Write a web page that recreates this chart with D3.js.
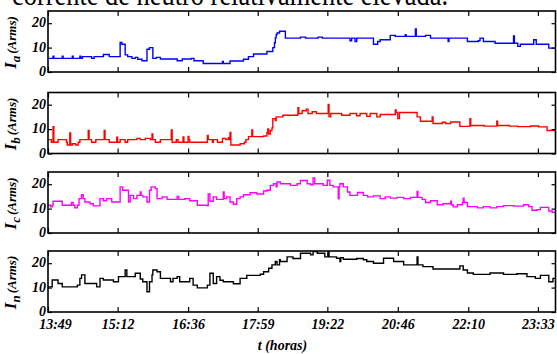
<!DOCTYPE html>
<html>
<head>
<meta charset="utf-8">
<script src="https://cdn.jsdelivr.net/npm/d3@7"></script>
<style>
  body { margin: 0; background: #fff; }
  svg { display: block; }
  text { font-family: "Liberation Serif", "Times New Roman", serif; }
</style>
</head>
<body>
<svg id="chart" width="557" height="354"></svg>
<script>
// time in minutes after 13:49, current in Arms
const tickMinutes = [0, 83, 167, 250, 333, 417, 501, 584];
const tickLabels = ['13:49', '15:12', '16:36', '17:59', '19:22', '20:46', '22:10', '23:33'];
const endMinute = 605;
const yTicks = [0, 10, 20];

const phaseA = [[0,5.6],[6,6.5],[7,5.6],[17,6.5],[18,5.6],[29,6.5],[30,5.6],[38,6.5],[39,5.6],[41,6.3],[52,5.6],[55,6.3],
  [66,7.2],[73,6.3],[86,12.1],[88,11.4],[92,7.0],[95,6.3],[100,5.6],[104,6.0],[107,5.2],[112,4.6],[118,9.3],[121,10.0],
  [125,5.6],[129,6.0],[134,5.3],[154,4.6],[160,5.3],[171,5.6],[174,4.6],[185,3.5],[208,4.3],[209,3.5],[217,4.5],[233,5.2],
  [239,6.3],[245,7.4],[261,8.4],[268,10],[270,12],[271,14],[272,15.3],[273,16],[276,16.7],[283,13.9],[301,14.3],[307,13.9],
  [322,14.3],[327,13.9],[360,12.8],[362,13.9],[366,12.5],[368,13.9],[388,11.4],[393,12.5],[396,13.2],[408,15.0],[414,14.6],
  [426,15.3],[427,14.6],[438,17.6],[439,14.6],[450,15.0],[456,13.9],[477,12.5],[478,13.9],[500,12.5],[513,12.8],[515,13.9],
  [519,12.5],[533,11.8],[555,14.8],[556,11.8],[560,10.5],[563,11.4],[579,13.2],[582,11.4],[597,9.8]];

const phaseB = [[0,5.7],[4,4.6],[6,11],[7,4.6],[12,5.7],[22,4.6],[23,3.5],[26,8.4],[27,3.5],[29,4.0],[33,3.5],[36,4.6],
  [38,5.7],[48,9.4],[49,5.7],[52,4.6],[57,5.7],[67,9.4],[68,5.7],[73,4.6],[82,6.7],[83,4.6],[86,5.7],[92,4.6],[95,5.7],
  [106,6.2],[110,5.7],[116,6.2],[122,5.7],[124,8.0],[125,5.7],[128,4.6],[134,5.7],[147,9.7],[148,4.6],[153,5.7],[155,4.6],
  [161,6.8],[162,4.6],[167,7.0],[168,5.7],[169,4.6],[190,7.4],[191,5.7],[196,4.6],[197,5.7],[202,4.6],[208,6.2],[212,5.7],
  [215,6.5],[216,5.7],[217,8.6],[218,3.5],[229,4.0],[234,4.6],[236,5.7],[239,6.9],[243,9.7],[244,6.9],[257,7.2],[261,8.5],
  [262,10.1],[263,8.0],[265,9.4],[267,10.5],[268,14.3],[271,13.5],[272,15.0],[280,15.7],[298,18.8],[299,16.4],[303,17.5],
  [308,18.2],[310,16.4],[315,17.1],[320,16.4],[334,20.1],[335,15.0],[337,16.4],[350,15.7],[360,16.4],[368,15.5],[372,16.4],
  [380,15.2],[384,16.4],[392,15.0],[396,16.0],[414,17.8],[415,16.8],[417,14.3],[419,16.8],[440,15.0],[444,13.2],[458,15.0],
  [459,12.3],[470,12.8],[474,12.3],[480,12.9],[491,11.1],[503,14.3],[504,11.5],[520,11.2],[535,13.2],[536,11.5],[550,11.2],
  [560,11.0],[575,11.3],[585,10.9],[595,9.4]];

const phaseC = [[0,11.4],[3,10.7],[5,11.4],[6,13.0],[17,11.4],[28,12.5],[30,11.4],[32,10.3],[35,11.4],[37,14.1],[40,15.7],
  [42,14.1],[44,12.7],[50,12.0],[54,11.1],[62,14.1],[66,13.2],[70,14.1],[76,12.7],[86,18.9],[89,17.5],[96,12.7],[98,15.4],
  [102,14.1],[106,15.4],[110,16.8],[111,15.4],[113,14.8],[118,12.7],[121,17.5],[123,18.9],[128,18.2],[130,14.1],[136,14.8],
  [142,13.8],[154,15.0],[156,13.8],[163,14.1],[169,13.2],[178,11.4],[190,11.1],[191,16.0],[193,13.0],[197,14.8],[201,13.8],
  [209,16.8],[210,14.1],[213,14.8],[217,12.7],[221,11.8],[225,14.1],[229,14.8],[233,15.7],[241,16.5],[249,16.0],[257,17.2],
  [261,17.5],[265,19.5],[269,20.2],[272,18.9],[273,20.9],[277,20.2],[289,19.5],[297,20.2],[301,21.5],[309,20.2],[313,19.8],
  [316,22.6],[318,20.2],[328,19.5],[333,21.6],[336,19.5],[340,18.9],[346,14.0],[347,18.9],[348,20.2],[352,18.9],[357,16.8],
  [360,15.4],[369,16.6],[376,15.4],[381,14.8],[388,15.2],[396,14.1],[402,14.8],[408,14.3],[416,14.6],[424,14.1],[432,14.6],
  [440,17.0],[441,14.6],[446,13.8],[450,12.5],[456,13.2],[464,11.6],[471,12.0],[480,13.0],[481,11.6],[483,10.7],[488,11.6],
  [494,12.5],[495,14.3],[496,12.5],[500,10.8],[512,10.3],[519,10.8],[527,10.3],[535,10.8],[543,11.2],[555,11.0],[567,11.6],
  [573,10.8],[577,9.3],[583,9.6],[587,10.5],[597,9.0],[601,8.5]];

const neutral = [[0,10.3],[5,13.1],[12,11.7],[17,10.3],[35,11.0],[38,13.8],[40,15.2],[44,11.7],[58,10.3],[62,13.8],[66,13.1],
  [78,12.4],[84,14.5],[92,17.2],[94,14.5],[104,15.9],[110,13.5],[113,12.4],[118,8.3],[121,12.4],[124,15.2],[125,17.2],
  [130,16.5],[134,13.8],[146,12.4],[149,13.8],[154,14.5],[157,12.4],[169,13.8],[173,11.0],[178,9.9],[190,11.0],[193,15.9],
  [197,11.7],[201,14.5],[205,13.0],[209,12.4],[221,11.6],[229,13.8],[237,15.0],[253,15.5],[257,16.5],[263,17.9],[267,19.3],
  [271,20.7],[273,19.3],[276,21.4],[277,20.7],[285,22.6],[292,21.9],[301,24.1],[313,23.4],[316,24.8],[321,24.1],[330,22.6],
  [334,24.8],[335,22.6],[344,22.0],[348,20.7],[349,22.3],[352,21.6],[368,21.9],[376,21.4],[380,20.7],[388,20.0],[400,22.0],
  [412,20.7],[424,19.3],[440,22.6],[441,19.3],[447,18.6],[459,17.6],[491,18.9],[495,17.2],[500,16.0],[507,15.4],[527,16.0],
  [543,15.4],[559,15.7],[571,14.5],[581,13.8],[587,15.0],[597,12.4],[602,13.8]];

const panels = [
  {sub: 'a', color: '#0000ff', data: phaseA},
  {sub: 'b', color: '#ff0000', data: phaseB},
  {sub: 'c', color: '#ff00ff', data: phaseC},
  {sub: 'n', color: '#000000', data: neutral}
];

const svg = d3.select('#chart');
const left = 48, right = 555.5;
const tops = [11, 92.5, 172, 251];
const ph = 61;

// caption line of the page, cut off by the top edge as in the source
svg.append('text')
  .attr('x', 12).attr('y', 5)
  .attr('font-size', 31)
  .attr('textLength', 436).attr('lengthAdjust', 'spacingAndGlyphs')
  .text('corrente de neutro relativamente elevada.');

const x = d3.scaleLinear().domain([0, endMinute]).range([0, right - left]);
const y = d3.scaleLinear().domain([0, 25]).range([ph, 0]);

const line = d3.line()
  .x(d => x(d[0]))
  .y(d => y(d[1]))
  .curve(d3.curveStepAfter);

panels.forEach((p, i) => {
  const g = svg.append('g').attr('transform', `translate(${left}, ${tops[i]})`);
  const w = right - left;

  g.append('clipPath').attr('id', 'clip' + i)
    .append('rect').attr('width', w).attr('height', ph);

  const pts = p.data.concat([[endMinute, p.data[p.data.length - 1][1]]]);
  g.append('path')
    .attr('clip-path', `url(#clip${i})`)
    .attr('d', line(pts))
    .attr('fill', 'none')
    .attr('stroke', p.color)
    .attr('stroke-width', 1.4);

  const styleAxis = sel => {
    sel.select('.domain').remove();
    sel.selectAll('line').attr('stroke', '#000').attr('stroke-width', 1.2);
    sel.selectAll('text')
      .attr('font-family', '"Liberation Serif", "Times New Roman", serif')
      .attr('font-size', 14).attr('font-weight', 'bold').attr('font-style', 'italic')
      .attr('fill', '#000');
  };

  const yAxis = g.append('g')
    .call(d3.axisLeft(y).tickValues(yTicks).tickSize(-4).tickPadding(2).tickFormat(d3.format('d')))
    .call(styleAxis);
  yAxis.selectAll('text').attr('dy', '0.25em');

  g.append('g').attr('transform', `translate(${w}, 0)`)
    .call(d3.axisRight(y).tickValues(yTicks).tickSize(-4).tickFormat(''))
    .call(styleAxis);
  g.append('g')
    .call(d3.axisTop(x).tickValues(tickMinutes).tickSize(-5).tickFormat(''))
    .call(styleAxis);
  const bottom = g.append('g').attr('transform', `translate(0, ${ph})`)
    .call(d3.axisBottom(x).tickValues(tickMinutes).tickSize(-5).tickPadding(7)
      .tickFormat((d, k) => i === panels.length - 1 ? tickLabels[k] : ''))
    .call(styleAxis);
  bottom.selectAll('text').filter((d, k) => k === 0).attr('dx', 7);

  g.append('rect')
    .attr('width', w).attr('height', ph)
    .attr('fill', 'none').attr('stroke', '#000').attr('stroke-width', 1.6);

  // y label: I_x (Arms)
  const lab = svg.append('text')
    .attr('transform', `translate(16, ${tops[i] + ph / 2 + 1}) rotate(-90)`)
    .attr('text-anchor', 'middle')
    .attr('font-weight', 'bold').attr('font-style', 'italic');
  lab.append('tspan').attr('font-size', 17).text('I');
  lab.append('tspan').attr('font-size', 13).attr('dy', 4).text(p.sub);
  lab.append('tspan').attr('font-size', 13).attr('dy', -4).attr('dx', 2).text('(Arms)');
});

svg.append('text')
  .attr('x', 282.5).attr('y', 350)
  .attr('text-anchor', 'middle')
  .attr('font-size', 14).attr('font-weight', 'bold').attr('font-style', 'italic')
  .text('t (horas)');
</script>
</body>
</html>
